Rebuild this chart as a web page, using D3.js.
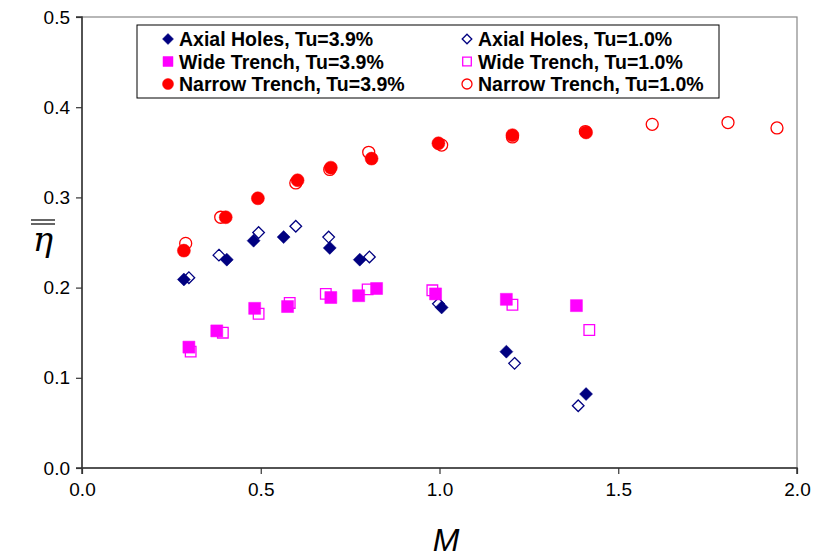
<!DOCTYPE html>
<html>
<head>
<meta charset="utf-8">
<script src="https://cdn.jsdelivr.net/npm/d3@7"></script>
<style>
  body { margin: 0; background: #fff; }
  text { font-family: "Liberation Sans", Arial, sans-serif; }
</style>
</head>
<body>
<div class="chart"></div>
<script>
// blowing ratio M vs. averaged effectiveness
var axialHot = [[0.285,0.209],[0.405,0.231],[0.48,0.252],[0.564,0.256],[0.693,0.244],[0.777,0.231],[1.006,0.178],[1.187,0.129],[1.41,0.082]]
var axialCold = [[0.299,0.211],[0.383,0.236],[0.494,0.261],[0.598,0.268],[0.69,0.256],[0.804,0.234],[0.997,0.182],[1.21,0.116],[1.388,0.069]]
var wideHot = [[0.299,0.134],[0.377,0.152],[0.483,0.177],[0.575,0.179],[0.696,0.189],[0.774,0.191],[0.824,0.199],[0.989,0.193],[1.187,0.187],[1.383,0.180]]
var wideCold = [[0.304,0.129],[0.394,0.150],[0.494,0.171],[0.581,0.183],[0.682,0.193],[0.799,0.198],[0.98,0.197],[1.204,0.181],[1.419,0.153]]
var narrowHot = [[0.285,0.241],[0.402,0.278],[0.492,0.299],[0.603,0.319],[0.696,0.333],[0.81,0.343],[0.997,0.36],[1.204,0.369],[1.41,0.372]]
var narrowCold = [[0.29,0.249],[0.388,0.278],[0.598,0.316],[0.693,0.331],[0.802,0.35],[1.006,0.358],[1.204,0.367],[1.408,0.373],[1.595,0.381],[1.807,0.383],[1.944,0.377]]

var xTicks = [0, 0.5, 1.0, 1.5, 2.0]
var yTicks = [0, 0.1, 0.2, 0.3, 0.4, 0.5]

var series = [
  { name: 'Axial Holes, Tu=3.9%', data: axialHot, shape: 'diamond', color: '#000080', filled: true },
  { name: 'Axial Holes, Tu=1.0%', data: axialCold, shape: 'diamond', color: '#000080', filled: false },
  { name: 'Wide Trench, Tu=3.9%', data: wideHot, shape: 'square', color: '#ff00ff', filled: true },
  { name: 'Wide Trench, Tu=1.0%', data: wideCold, shape: 'square', color: '#ff00ff', filled: false },
  { name: 'Narrow Trench, Tu=3.9%', data: narrowHot, shape: 'circle', color: '#ff0000', filled: true },
  { name: 'Narrow Trench, Tu=1.0%', data: narrowCold, shape: 'circle', color: '#ff0000', filled: false }
]

var W = 815, H = 557
var x = d3.scaleLinear().domain([0, 2]).range([82, 797])
var y = d3.scaleLinear().domain([0, 0.5]).range([468, 17])

var svg = d3.select('.chart')
  .append('svg')
    .attr('width', W)
    .attr('height', H)

// plot frame (top / right grey)
svg.append('rect')
  .attr('x', x(0)).attr('y', y(0.5))
  .attr('width', x(2) - x(0)).attr('height', y(0) - y(0.5))
  .style('fill', 'none')
  .style('stroke', '#888')
  .style('stroke-width', 1.2)

var xAxis = svg.append('g')
  .attr('transform', `translate(0,${y(0)})`)
  .call(d3.axisBottom(x).tickValues(xTicks).tickFormat(d3.format('.1f')).tickSize(6).tickPadding(9))

var yAxis = svg.append('g')
  .attr('transform', `translate(${x(0)},0)`)
  .call(d3.axisLeft(y).tickValues(yTicks).tickFormat(d3.format('.1f')).tickSize(6).tickPadding(6))

svg.selectAll('.domain').style('stroke', '#333').style('stroke-width', 1.5)
svg.selectAll('.tick line').style('stroke', '#333').style('stroke-width', 1.2)
svg.selectAll('.tick text')
  .style('font-size', '19px')
  .style('fill', '#000')
  .style('font-family', '"Liberation Sans", Arial, sans-serif')
// y axis domain ends should not stick out
yAxis.select('.domain').attr('d', `M-6,${y(0.5)}H0V${y(0)}H-6`)
xAxis.select('.domain').attr('d', `M${x(0)},6V0H${x(2)}V6`)

function markerPath (shape, s) {
  if (shape === 'diamond') return `M0,${-s}L${s},0L0,${s}L${-s},0Z`
  if (shape === 'square') return `M${-s},${-s}H${s}V${s}H${-s}Z`
  return null
}

function drawMarker (sel, d, size) {
  if (d.shape === 'circle') {
    sel.append('circle')
      .attr('r', d.filled ? size.c : size.c - 0.5)
      .style('fill', d.filled ? d.color : 'none')
      .style('stroke', d.color)
      .style('stroke-width', d.filled ? 0.5 : 1.3)
  } else {
    var s = d.shape === 'diamond' ? size.d : size.s
    sel.append('path')
      .attr('d', markerPath(d.shape, d.filled ? s : s - 0.7))
      .style('fill', d.filled ? d.color : 'none')
      .style('stroke', d.color)
      .style('stroke-width', d.filled ? 0.5 : 1.3)
  }
}

// points: open series drawn first so filled ones overlap like the original
var order = [1, 3, 5, 0, 2, 4]
order.forEach(function (i) {
  var s = series[i]
  svg.append('g')
    .selectAll('g')
    .data(s.data)
    .enter()
      .append('g')
      .attr('transform', d => `translate(${x(d[0])},${y(d[1])})`)
      .each(function () { drawMarker(d3.select(this), s, { d: 6.5, s: 6, c: 6.5 }) })
})

// legend
var leg = svg.append('g')
leg.append('rect')
  .attr('x', 137).attr('y', 25)
  .attr('width', 582).attr('height', 73)
  .style('fill', '#fff')
  .style('stroke', '#000')
  .style('stroke-width', 1)

var item = leg.selectAll('g.item')
  .data(series)
  .enter()
    .append('g')
    .attr('class', 'item')
    .attr('transform', (d, i) => `translate(${i % 2 ? 467 : 168},${39 + Math.floor(i / 2) * 22.5})`)

item.each(function (d) { drawMarker(d3.select(this), d, { d: 5.5, s: 5, c: 5.5 }) })

item.append('text')
  .attr('x', 11)
  .attr('y', 7)
  .style('font-size', '19.5px')
  .style('font-weight', 'bold')
  .text(d => d.name)

// axis titles
svg.append('text')
  .attr('x', 446).attr('y', 551)
  .attr('text-anchor', 'middle')
  .style('font-size', '32px')
  .style('font-style', 'italic')
  .text('M')

var eta = svg.append('g').attr('transform', 'translate(43,251)')
eta.append('text')
  .attr('text-anchor', 'middle')
  .style('font-size', '34px')
  .style('font-style', 'italic')
  .style('font-family', '"DejaVu Serif", "Liberation Serif", serif')
  .text('η')
eta.append('line').attr('x1', -12).attr('x2', 12).attr('y1', -31).attr('y2', -31).style('stroke', '#000').style('stroke-width', 1.2)
eta.append('line').attr('x1', -12).attr('x2', 12).attr('y1', -27).attr('y2', -27).style('stroke', '#000').style('stroke-width', 1.2)
</script>
</body>
</html>
